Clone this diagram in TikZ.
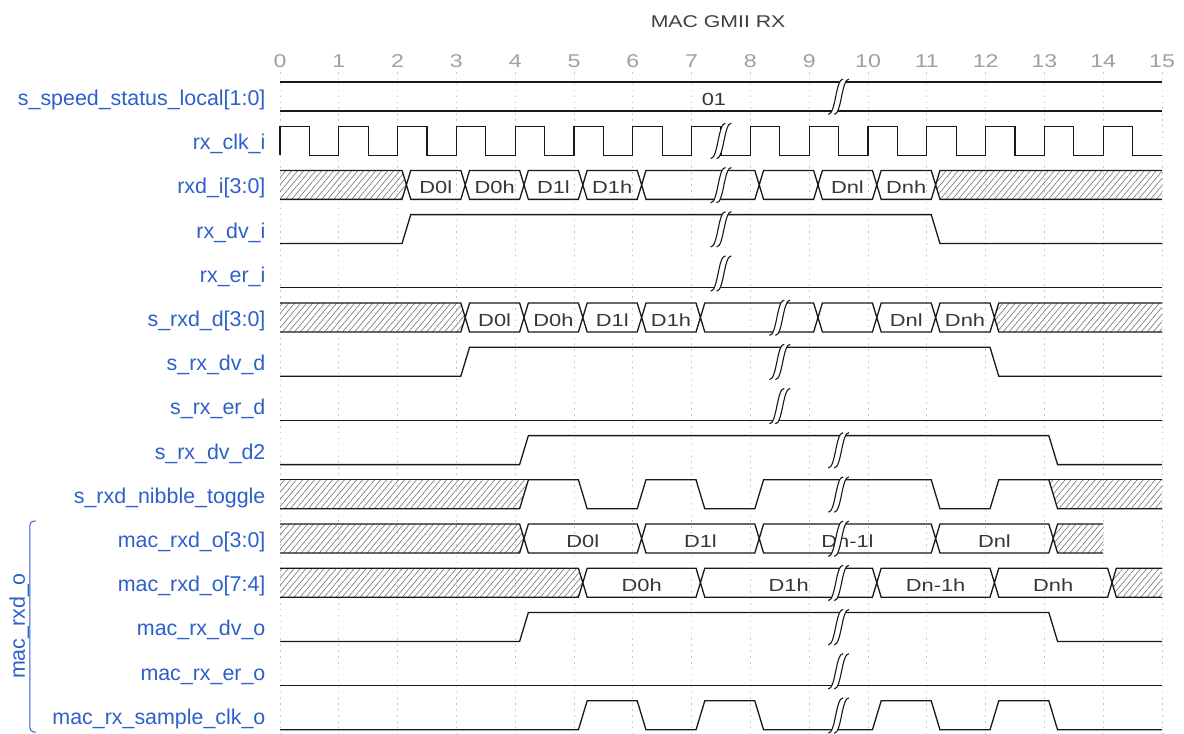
\documentclass[tikz,border=0pt]{standalone}
\usepackage{fontspec}
\setmainfont{Liberation Sans}
\newfontfamily\wavefont[FakeStretch=1.25]{Liberation Sans}
\usetikzlibrary{patterns.meta}
\definecolor{SigBlue}{RGB}{45,95,205}
\definecolor{WaveText}{RGB}{55,55,55}
\definecolor{TickGray}{RGB}{160,160,160}
\definecolor{GridGray}{RGB}{200,200,200}
\tikzset{
  wave/.style={line width=1.3pt,black!90},
  hatch/.style={pattern={Lines[angle=50,distance=4.6pt,line width=0.6pt]},pattern color=black!55},
  gridline/.style={GridGray,line width=0.8pt,dash pattern=on 1.5pt off 4.4pt},
  signame/.style={anchor=base east,inner sep=0pt,text=SigBlue,font=\fontsize{21.4}{24}\selectfont},
  datalabel/.style={anchor=base,inner sep=0pt,text=WaveText,font=\wavefont\fontsize{17.5}{20}\selectfont},
  ticklabel/.style={anchor=base,inner sep=0pt,text=TickGray,font=\wavefont\fontsize{18.5}{21}\selectfont},
  titlelabel/.style={anchor=base,inner sep=0pt,text=black!75,font=\wavefont\fontsize{17}{20}\selectfont}
}
\def\hw{0.656}
% bus outline: row, start, end, crossings
\newcommand\busrow[4]{%
  \draw[wave] (#2,#1) foreach \c in {#4} { -- (\c+0.075,#1) -- (\c+0.15,#1+0.328) -- (\c+0.224,#1) } -- (#3,#1);
  \draw[wave] (#2,#1+\hw) foreach \c in {#4} { -- (\c+0.075,#1+\hw) -- (\c+0.15,#1+0.328) -- (\c+0.224,#1+\hw) } -- (#3,#1+\hw);
}
% hatched head / tail of a bus
\newcommand\xhead[2]{%
  \fill[hatch] (0,#1) -- (#2+0.075,#1) -- (#2+0.15,#1+0.328) -- (#2+0.075,#1+\hw) -- (0,#1+\hw) -- cycle;}
\newcommand\xtail[3]{%
  \fill[hatch] (#2+0.15,#1+0.328) -- (#2+0.224,#1) -- (#3,#1) -- (#3,#1+\hw) -- (#2+0.224,#1+\hw) -- cycle;}
% single-bit wave: row, list of rise/fall
\newcommand\pulses[2]{%
  \draw[wave] (0,#1+\hw) foreach \r/\f in {#2} { -- (\r+0.075,#1+\hw) -- (\r+0.224,#1) -- (\f+0.075,#1) -- (\f+0.224,#1+\hw) } -- (15,#1+\hw);}
% time break: time, row
\newcommand\wgap[2]{%
  \fill[white] ({#1+0.175},{#2-0.067}) -- ({#1+0.075},{#2-0.067})
    .. controls ({#1-0.05},{#2-0.067}) and ({#1-0.05},{#2+0.733}) .. ({#1-0.175},{#2+0.733})
    -- ({#1-0.075},{#2+0.733})
    .. controls ({#1+0.05},{#2+0.733}) and ({#1+0.05},{#2-0.067}) .. cycle;
  \draw[wave,line width=1.1pt] ({#1-0.175},{#2+0.733}) .. controls ({#1-0.05},{#2+0.733}) and ({#1-0.05},{#2-0.067}) .. ({#1+0.075},{#2-0.067});
  \draw[wave,line width=1.1pt] ({#1-0.075},{#2+0.733}) .. controls ({#1+0.05},{#2+0.733}) and ({#1+0.05},{#2-0.067}) .. ({#1+0.175},{#2-0.067});
}
\begin{document}
\begin{tikzpicture}[x=58.8pt,y=-44.2pt]
  \fill[white] (-4.7619,-1.8552) rectangle (15.3741,14.7285);
  \useasboundingbox (-4.7619,-1.8552) rectangle (15.3741,14.7285);
  % title and time axis
  \node[titlelabel] (title) at (7.45,-1.244) {MAC GMII RX};
  \foreach \t in {0,...,15} {
    \draw[gridline] (\t,-0.226) -- (\t,14.73);
    \node[ticklabel] (tick\t) at (\t,-0.317) {\t};
  }
  % signal names
  \foreach \k/\txt in {0/s\_speed\_status\_local[1:0],1/rx\_clk\_i,2/rxd\_i[3:0],3/rx\_dv\_i,
      4/rx\_er\_i,5/s\_rxd\_d[3:0],6/s\_rx\_dv\_d,7/s\_rx\_er\_d,8/s\_rx\_dv\_d2,
      9/s\_rxd\_nibble\_toggle,10/mac\_rxd\_o[3:0],11/mac\_rxd\_o[7:4],12/mac\_rx\_dv\_o,
      13/mac\_rx\_er\_o,14/mac\_rx\_sample\_clk\_o}
    {\node[signame] (sig\k) at (-0.245,\k+0.53) {\txt};}
  % group bracket
  \draw[SigBlue,line width=1pt,rounded corners=4pt] (-4.150,9.932) -- (-4.252,9.932) -- (-4.252,14.706) -- (-4.150,14.706);
  \node[rotate=90,anchor=base,inner sep=0pt,text=SigBlue,font=\fontsize{21.4}{24}\selectfont] (grp) at (-4.337,12.308) {mac\_rxd\_o};
  % hatched areas
  \xhead{2}{2} \xtail{2}{11}{15}
  \xhead{5}{3} \xtail{5}{12}{15}
  \xhead{10}{4} \xtail{10}{13}{14}
  \xhead{11}{5} \xtail{11}{14}{15}
  \fill[hatch] (0,9) -- (4.224,9) -- (4.075,9.656) -- (0,9.656) -- cycle;
  \fill[hatch] (13.075,9) -- (15,9) -- (15,9.656) -- (13.224,9.656) -- cycle;
  % s_speed_status_local
  \draw[wave] (0,0) -- (15,0);
  \draw[wave] (0,\hw) -- (15,\hw);
  \node[datalabel] (spd) at (7.38,0.53) {01};
  % rx_clk_i
  \draw[wave] (0,1.656) foreach \t in {0,...,14} { -- (\t,1) -- (\t+0.5,1) -- (\t+0.5,1.656) -- (\t+1,1.656) };
  % buses
  \busrow{2}{0}{15}{2,3,4,5,6,8,9,10,11}
  \busrow{5}{0}{15}{3,4,5,6,7,9,10,11,12}
  \busrow{10}{0}{14}{4,6,8,11,13}
  \busrow{11}{0}{15}{5,7,10,12,14}
  \foreach \x/\s [count=\i] in {2.65/D0l,3.65/D0h,4.65/D1l,5.65/D1h,9.65/Dnl,10.65/Dnh}
    {\node[datalabel] (rxd\i) at (\x,2.53) {\s};}
  \foreach \x/\s [count=\i] in {3.65/D0l,4.65/D0h,5.65/D1l,6.65/D1h,10.65/Dnl,11.65/Dnh}
    {\node[datalabel] (srxd\i) at (\x,5.53) {\s};}
  \foreach \x/\s [count=\i] in {5.15/D0l,7.15/D1l,9.65/Dn-1l,12.15/Dnl}
    {\node[datalabel] (lo\i) at (\x,10.53) {\s};}
  \foreach \x/\s [count=\i] in {6.15/D0h,8.65/D1h,11.15/Dn-1h,13.15/Dnh}
    {\node[datalabel] (hi\i) at (\x,11.53) {\s};}
  % single bits
  \pulses{3}{2/11}
  \draw[wave] (0,4.656) -- (15,4.656);
  \pulses{6}{3/12}
  \draw[wave] (0,7.656) -- (15,7.656);
  \pulses{8}{4/13}
  \pulses{9}{4/5,6/7,8/11,12/13}
  \draw[wave] (0,9) -- (4.224,9);
  \draw[wave] (13.075,9) -- (15,9);
  \pulses{12}{4/13}
  \draw[wave] (0,13.656) -- (15,13.656);
  \pulses{14}{5/6,7/8,10/11,12/13}
  % time breaks
  \wgap{9.5}{0}
  \foreach \k in {1,...,4} {\wgap{7.5}{\k}}
  \foreach \k in {5,6,7} {\wgap{8.5}{\k}}
  \foreach \k in {8,...,14} {\wgap{9.5}{\k}}
\end{tikzpicture}
\end{document}
